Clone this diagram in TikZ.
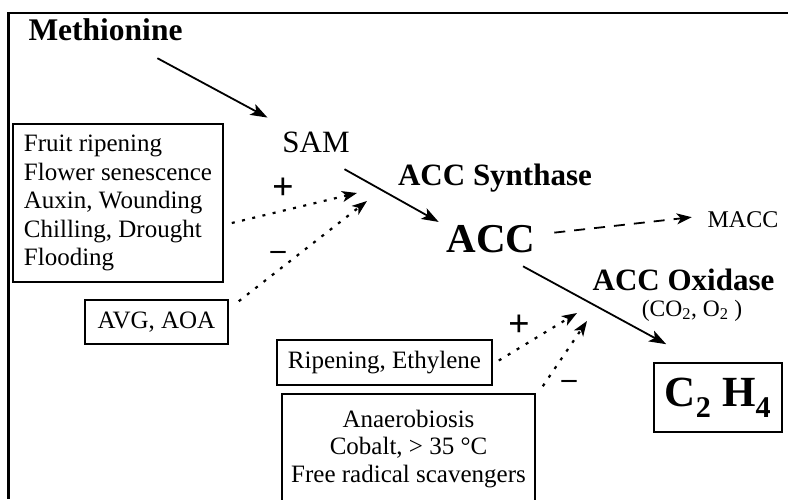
\documentclass[tikz,border=0pt]{standalone}
\usepackage{fontspec}
\setmainfont{Liberation Serif}
\usetikzlibrary{positioning, calc, arrows.meta}

\begin{document}
\begin{tikzpicture}[x=1pt, y=-1pt, line width=1.8pt,
    txt/.style={font=\fontsize{25}{28.5}\selectfont, inner sep=0pt},
    enzyme/.style={font=\fontsize{31}{34}\selectfont\bfseries, inner sep=0pt},
    box/.style={draw, line width=1.6pt, txt},
    sign/.style={font=\fontsize{38}{40}\selectfont\bfseries, inner sep=0pt},
    reaction/.style={-{Stealth[length=17pt, width=12pt, inset=4pt]}},
    effect/.style={-{Stealth[length=15pt, width=11pt, inset=4pt]}, line width=2.2pt, dash pattern=on 3pt off 7.5pt},
    side/.style={-{Stealth[length=15pt, width=11pt, inset=4pt]}, dash pattern=on 11pt off 9pt}]
    \useasboundingbox (0,0) rectangle (788,499);

    % Frame
    \draw[line width=2.7pt] (788,13) -- (8.5,13) -- (8.5,499);

    % Pathway
    \node[font=\fontsize{31.5}{34}\selectfont\bfseries, inner sep=0pt, anchor=base] (methionine) at (105.5,40) {Methionine};
    \node[font=\fontsize{31}{34}\selectfont, inner sep=0pt, anchor=base] (sam) at (316,152) {SAM};
    \node[enzyme, anchor=base] (synthase) at (495,185) {ACC Synthase};
    \node[font=\fontsize{41}{44}\selectfont\bfseries, inner sep=0pt, anchor=base] (acc) at (491,252) {ACC};
    \node[font=\fontsize{24}{26}\selectfont, inner sep=0pt, anchor=base] (macc) at (743,227) {MACC};
    \node[enzyme, anchor=base] (oxidase) at (683.5,290) {ACC Oxidase};
    \node[font=\fontsize{23.5}{25}\selectfont, inner sep=0pt, anchor=base] (cofactors) at (692,316) {(CO\textsubscript{2}, O\textsubscript{2} )};
    \node[box, minimum width=128, minimum height=69, font=\fontsize{43}{45}\selectfont\bfseries] (ethylene) at (718,397.5) {C\textsubscript{2} H\textsubscript{4}};

    % Regulators
    \node[box, align=left, minimum width=210, minimum height=158] (inducers) at (118,203)
        {Fruit ripening\\Flower senescence\\Auxin, Wounding\\Chilling, Drought\\Flooding};
    \node[box, minimum width=143, minimum height=44] (inhibitors) at (156.5,322) {AVG, AOA};
    \node[box, minimum width=215, minimum height=45] (ripening) at (384.5,362.5) {Ripening, Ethylene};
    \node[box, align=center, minimum width=253, minimum height=110, font=\fontsize{25}{27.5}\selectfont] (stress) at (408.5,449)
        {Anaerobiosis\\Cobalt, > 35 °C\\Free radical scavengers};

    % Signs
    \node[sign] (plussam) at (283,189) {+};
    \node[sign, font=\fontsize{30}{32}\selectfont\bfseries] (minussam) at (278,255) {–};
    \node[sign] (plusox) at (519,326) {+};
    \node[sign, font=\fontsize{30}{32}\selectfont\bfseries] (minusox) at (569,384) {–};

    % Arrow ends of the regulation
    \coordinate (upsam) at (357,193);
    \coordinate (downsam) at (367,201);
    \coordinate (upox) at (577,313);
    \coordinate (downox) at (587,321);

    % Arrows
    \draw[reaction] ([shift={(-26,17)}]methionine.south east) -- ([shift={(-14,-13)}]sam.north west);
    \draw[reaction] ([shift={(-6,16)}]sam.south east) -- ([shift={(-7,-2)}]acc.north west);
    \draw[side] ([shift={(18,-6)}]acc.east) -- ([shift={(-15,-2)}]macc.west);
    \draw[reaction] ([shift={(32,13)}]acc.south) -- ([shift={(13,-18)}]ethylene.north west);

    % Dotted arrows
    \draw[effect] ([shift={(8,20)}]inducers.east) -- (upsam);
    \draw[effect] ([shift={(10,2)}]inhibitors.north east) -- (downsam);
    \draw[effect] ([shift={(6,-2)}]ripening.east) -- (upox);
    \draw[effect] ([shift={(7,-7)}]stress.north east) -- (downox);
\end{tikzpicture}
\end{document}
